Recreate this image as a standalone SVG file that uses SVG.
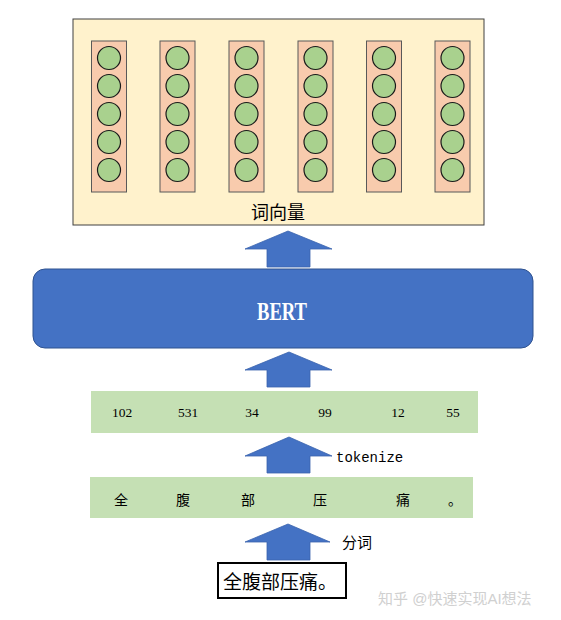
<svg xmlns="http://www.w3.org/2000/svg" width="561" height="620" viewBox="0 0 561 620">
<defs>
<style>
.col{fill:#F8CBAD;stroke:#595959;stroke-width:1}
.dot{fill:#A9D18E;stroke:#1a1a1a;stroke-width:1.2}
.arr{fill:#4472C4;stroke:#3A63AD;stroke-width:0.8}
.bar{fill:#C5E0B4}
.num{font-family:"Liberation Serif",serif;font-size:13.5px;fill:#000;text-anchor:middle}
.zh{font-family:"Liberation Sans","Noto Sans CJK SC",sans-serif;fill:#000}
</style>
<g id="vec">
<rect class="col" x="0" y="0" width="35" height="151"/>
<circle class="dot" cx="17.5" cy="17" r="11.5"/>
<circle class="dot" cx="17.5" cy="45" r="11.5"/>
<circle class="dot" cx="17.5" cy="73" r="11.5"/>
<circle class="dot" cx="17.5" cy="101" r="11.5"/>
<circle class="dot" cx="17.5" cy="129" r="11.5"/>
</g>
</defs>
<rect width="561" height="620" fill="#fff"/>
<g id="output">
<rect x="73" y="19" width="411" height="206" fill="#FFF2CC" stroke="#404040" stroke-width="1"/>
<use href="#vec" x="91.5" y="41"/>
<use href="#vec" x="160" y="41"/>
<use href="#vec" x="229" y="41"/>
<use href="#vec" x="298" y="41"/>
<use href="#vec" x="366.5" y="41"/>
<use href="#vec" x="435" y="41"/>
<text class="zh" x="278" y="219" font-size="18" text-anchor="middle">词向量</text>
</g>
<g id="bert">
<rect x="33" y="269" width="500" height="79" rx="12" fill="#4472C4" stroke="#2F528F" stroke-width="1"/>
<text x="282" y="320" font-family="Liberation Serif,serif" font-size="26" font-weight="bold" fill="#fff" text-anchor="middle" textLength="50" lengthAdjust="spacingAndGlyphs">BERT</text>
</g>
<g id="tokens">
<rect class="bar" x="91" y="391" width="387" height="42"/>
<text class="num" x="122" y="417">102</text>
<text class="num" x="188" y="417">531</text>
<text class="num" x="252" y="417">34</text>
<text class="num" x="325" y="417">99</text>
<text class="num" x="398" y="417">12</text>
<text class="num" x="453" y="417">55</text>
</g>
<g id="chars">
<rect class="bar" x="90" y="477" width="383" height="41"/>
<g class="zh" font-size="14" text-anchor="middle">
<text x="121" y="505">全</text>
<text x="183" y="505">腹</text>
<text x="248" y="505">部</text>
<text x="320" y="505">压</text>
<text x="403" y="505">痛</text>
<text x="455" y="505">。</text>
</g>
</g>
<g id="input">
<rect x="218" y="563" width="128" height="35" fill="#fff" stroke="#000" stroke-width="2"/>
<text class="zh" x="223" y="589" font-size="19">全腹部压痛。</text>
</g>
<g id="connectors">
<polygon class="arr" points="288,231 332,249 310,249 310,267 267,267 267,249 245,249"/>
<polygon class="arr" points="289,352 332,370 310,370 310,387 267,387 267,370 245,370"/>
<polygon class="arr" points="289,437 332,456 310,456 310,473 267,473 267,456 245,456"/>
<polygon class="arr" points="288,524 330,542 310,542 310,560 267,560 267,542 245,542"/>
<text x="336" y="462" font-family="Liberation Mono,monospace" font-size="14" fill="#000">tokenize</text>
<text class="zh" x="342" y="548" font-size="15">分词</text>
</g>
<text class="zh" x="378" y="604" font-size="15" style="fill:#d0d0d0">知乎 @快速实现AI想法</text>
</svg>
